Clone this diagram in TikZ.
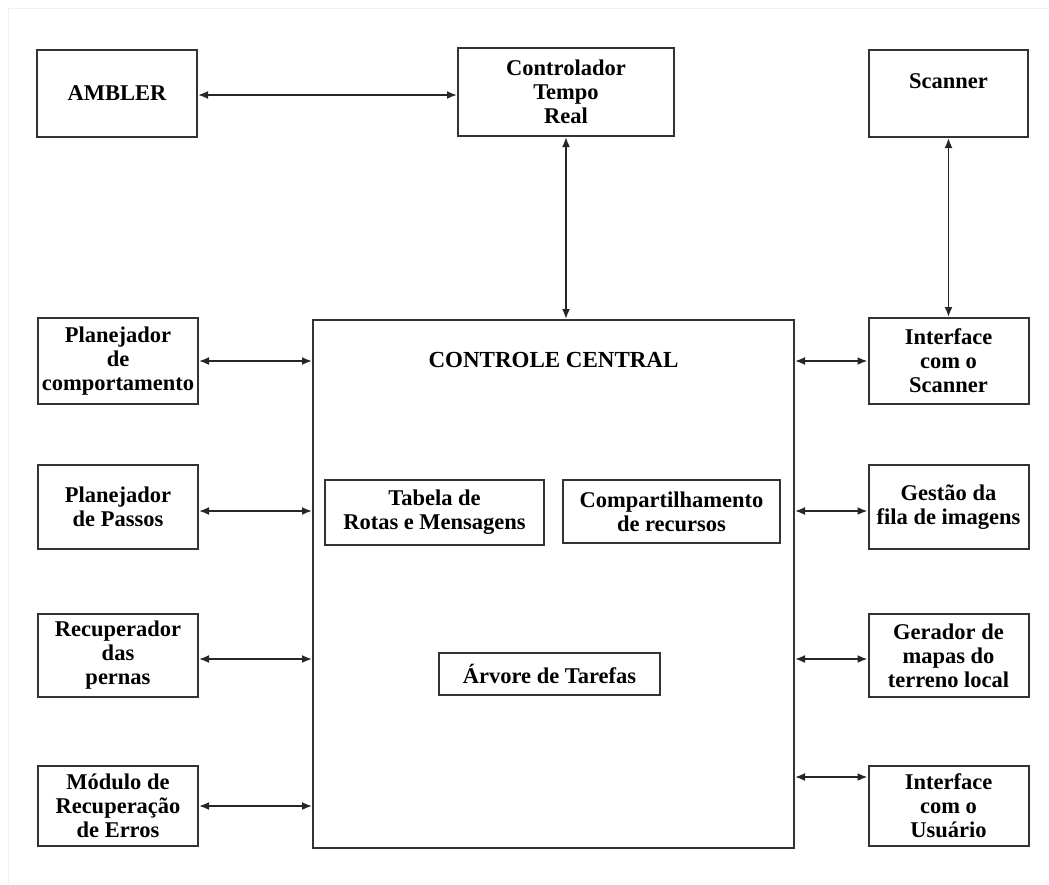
\documentclass[tikz,border=0pt]{standalone}
\usepackage{fontspec}
\setmainfont{Liberation Serif}
\usetikzlibrary{arrows.meta}
\begin{document}
\begin{tikzpicture}[x=1pt,y=-1pt,
  box/.style={draw=black!80, line width=2pt, fill=white, align=center,
    inner sep=0pt, font=\bfseries\fontsize{22.5}{24}\selectfont},
  side/.style={box, minimum width=160pt},
  title/.style={font=\bfseries\fontsize{23}{24}\selectfont, inner sep=0pt},
  link/.style={{Latex[length=10pt,width=8pt]}-{Latex[length=10pt,width=8pt]},
    line width=1.8pt, draw=black!85}]
\useasboundingbox (0,0) rectangle (1049,884);
% faint page edge
\draw[black!6, line width=1pt] (8,884) -- (8,8) -- (1049,8);

% top row
\node[box, minimum width=160pt, minimum height=87pt] (ambler) at (117,93.5) {AMBLER};
\node[box, minimum width=216pt, minimum height=88pt] (ctrl) at (566,92) {Controlador\\Tempo\\Real};
\node[box, minimum width=159pt, minimum height=87pt] (scanner) at (948.5,93.5) {Scanner\\\mbox{}};

% central block
\node[draw=black!80, line width=2pt, minimum width=481pt, minimum height=528pt, inner sep=0pt] (central) at (553.5,584) {};
\node[title] (ctitle) at (553.5,360) {CONTROLE CENTRAL};
\node[box, minimum width=219pt, minimum height=65pt] (tabela) at (434.5,512.5) {Tabela de\\Rotas e Mensagens};
\node[box, minimum width=217pt, minimum height=63pt] (compart) at (671.5,511.5) {Compartilhamento\\de recursos};
\node[box, minimum width=221pt, minimum height=42pt] (arvore) at (549.5,674) {Árvore de Tarefas};

% left column
\node[side, minimum height=86pt] (plancomp) at (118,361) {Planejador\\de\\comportamento};
\node[side, minimum height=84pt] (planpass) at (118,507) {Planejador\\de Passos};
\node[side, minimum height=83pt] (recup) at (118,655.5) {Recuperador\\das\\pernas};
\node[side, minimum height=80pt] (modulo) at (118,806) {Módulo de\\Recuperação\\de Erros};

% right column
\node[side, minimum height=86pt] (iscan) at (948.5,361) {Interface\\com o\\Scanner};
\node[side, minimum height=84pt] (gestao) at (948.5,507) {Gestão da\\fila de imagens};
\node[side, minimum height=83pt] (gerador) at (948.5,655.5) {Gerador de\\mapas do\\terreno local};
\node[side, minimum height=80pt] (iusr) at (948.5,806) {Interface\\com o\\Usuário};

% connectors
\draw[link] (ambler.east |- 0,95) -- (ctrl.west |- 0,95);
\draw[link] (ctrl.south) -- (ctrl.south |- central.north);
\draw[link] (scanner.south) -- (iscan.north);

\draw[link] (plancomp.east) -- (plancomp.east -| central.west);
\draw[link] (planpass.east |- 0,511) -- (central.west |- 0,511);
\draw[link] (recup.east |- 0,659) -- (central.west |- 0,659);
\draw[link] (modulo.east) -- (modulo.east -| central.west);

\draw[link] (iscan.west -| central.east) -- (iscan.west);
\draw[link] (central.east |- 0,511) -- (gestao.west |- 0,511);
\draw[link] (central.east |- 0,659) -- (gerador.west |- 0,659);
\draw[link] (central.east |- 0,777) -- (iusr.west |- 0,777);
\end{tikzpicture}
\end{document}
